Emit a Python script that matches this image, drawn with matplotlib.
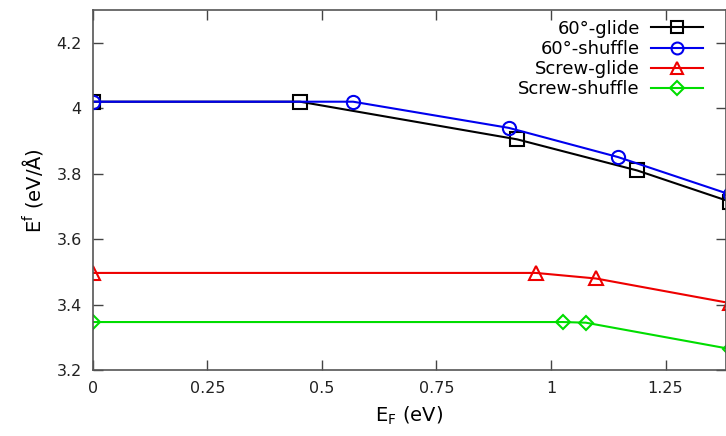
import matplotlib
matplotlib.use('Agg')
import matplotlib.pyplot as plt

# 形成能随费米能级的变化
x_glide60 = [0, 0.452, 0.926, 1.188, 1.39]
y_glide60 = [4.02, 4.02, 3.905, 3.81, 3.715]
x_shuffle60 = [0, 0.568, 0.908, 1.146, 1.39]
y_shuffle60 = [4.02, 4.02, 3.94, 3.851, 3.737]
x_screw_glide = [0, 0.967, 1.098, 1.39]
y_screw_glide = [3.497, 3.497, 3.48, 3.405]
x_screw_shuffle = [0, 1.026, 1.076, 1.39]
y_screw_shuffle = [3.347, 3.347, 3.345, 3.265]

xticks = [0, 0.25, 0.5, 0.75, 1, 1.25]
xticklabels = ['0', '0.25', '0.5', '0.75', '1', '1.25']
yticks = [3.2, 3.4, 3.6, 3.8, 4.0, 4.2]
yticklabels = ['3.2', '3.4', '3.6', '3.8', '4', '4.2']

plt.rcParams['font.family'] = ['DejaVu Sans']

fig = plt.figure(figsize=(7.26, 4.36), dpi=100)
ax = fig.add_axes([0.128, 0.151, 0.872, 0.826])

mk = dict(markersize=9.5, markerfacecolor='none', markeredgewidth=1.5, lw=1.5)
ax.plot(x_glide60, y_glide60, color='black', marker='s', label='60°-glide', **mk)
ax.plot(x_shuffle60, y_shuffle60, color='#0000ee', marker='o', label='60°-shuffle', **mk)
ax.plot(x_screw_glide, y_screw_glide, color='#ee0000', marker='^', label='Screw-glide', **mk)
ax.plot(x_screw_shuffle, y_screw_shuffle, color='#00dd00', marker='D', label='Screw-shuffle',
        **dict(mk, markersize=7.5))

ax.set_xlim(0, 1.382)
ax.set_ylim(3.2, 4.3)
ax.set_xticks(xticks)
ax.set_xticklabels(xticklabels)
ax.set_yticks(yticks)
ax.set_yticklabels(yticklabels)
ax.tick_params(direction='in', top=True, right=True, length=7, width=1,
               color='#444444', labelsize=11.5, labelcolor='#222222', pad=8)
for s in ax.spines.values():
    s.set_color('#555555')
    s.set_linewidth(1.2)

ax.set_xlabel(r'$\mathregular{E_F}$ (eV)', fontsize=14, labelpad=6)
ax.set_ylabel(r'$\mathregular{E^f}$ (eV/Å)', fontsize=14, labelpad=8)

# markerfirst=False 时文字自动右对齐
ax.legend(loc='upper right', bbox_to_anchor=(0.975, 0.993), frameon=False,
          markerfirst=False, fontsize=13, handlelength=2.9, labelspacing=0.12,
          handletextpad=0.6, borderaxespad=0, markerscale=0.9)

plt.savefig('out.png', dpi=100)
